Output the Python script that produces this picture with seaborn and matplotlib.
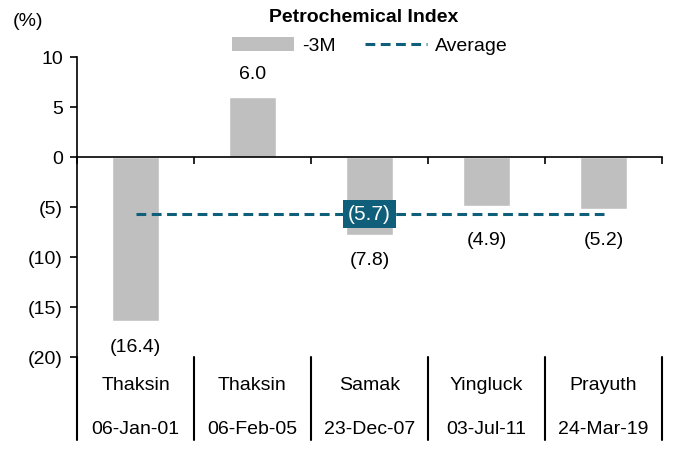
import numpy as np
import pandas as pd
import seaborn as sns
import matplotlib.pyplot as plt
from matplotlib.patches import Patch
from matplotlib.lines import Line2D
from matplotlib.ticker import FuncFormatter
import matplotlib.transforms as mtrans

# data
leaders = ["Thaksin", "Thaksin", "Samak", "Yingluck", "Prayuth"]
dates = ["06-Jan-01", "06-Feb-05", "23-Dec-07", "03-Jul-11", "24-Mar-19"]
change_3m = [-16.4, 6.0, -7.8, -4.9, -5.2]
average = -5.7

bar_color = "#BFBFBF"
avg_color = "#0F5F7A"
fs = 14

sns.set_style("white")
plt.rcParams["font.family"] = ["Liberation Sans", "DejaVu Sans"]
plt.rcParams["text.color"] = "black"
plt.rcParams["ytick.color"] = "black"
plt.rcParams["xtick.color"] = "black"

df = pd.DataFrame({"date": dates, "leader": leaders, "chg": change_3m})

fig = plt.figure(figsize=(6.77, 4.51), dpi=100)
ax = fig.add_axes([77 / 677, 94 / 451, 585 / 677, 300 / 451])

sns.barplot(data=df, x="date", y="chg", color=bar_color, saturation=1,
            width=0.4, ax=ax)
sns.lineplot(x=list(range(len(dates))), y=[average] * len(dates), color=avg_color,
             linewidth=2.2, linestyle=(0, (3.2, 1.8)), ax=ax)

ax.set_xlim(-0.5, len(dates) - 0.5)
ax.set_ylim(-20, 10)
ax.set_yticks([10, 5, 0, -5, -10, -15, -20])
ax.yaxis.set_major_formatter(FuncFormatter(
    lambda v, p: f"({abs(v):.0f})" if v < 0 else f"{v:.0f}"))
ax.tick_params(axis="y", direction="out", length=5, width=1.2, labelsize=fs,
               left=True, pad=5)

# x-axis sits on zero, ticks at category boundaries
ax.spines["bottom"].set_position(("data", 0))
ax.set_xticks(np.arange(-0.5, len(dates), 1.0))
ax.set_xticklabels([])
ax.tick_params(axis="x", direction="out", length=5, width=1.2, bottom=True)
for s in ["top", "right"]:
    ax.spines[s].set_visible(False)
for s in ["left", "bottom"]:
    ax.spines[s].set_linewidth(1.2)
    ax.spines[s].set_color("black")
ax.set_xlabel("")
ax.set_ylabel("")

# value labels
for i, v in enumerate(change_3m):
    if v >= 0:
        ax.annotate(f"{v:.1f}", (i, v), xytext=(0, 16), textcoords="offset points",
                    ha="center", va="center", fontsize=fs)
    elif i == 2:
        ax.annotate(f"({abs(v):.1f})", (i, v), xytext=(0, -18), textcoords="offset points",
                    ha="center", va="center", fontsize=fs)
    else:
        ax.annotate(f"({abs(v):.1f})", (i, min(v, average)), xytext=(0, -19),
                    textcoords="offset points", ha="center", va="center", fontsize=fs)

# average label box
ax.text(2, average, f"({abs(average):.1f})", ha="center", va="center",
        fontsize=fs + 1, color="white",
        bbox=dict(boxstyle="square,pad=0.22", fc=avg_color, ec="none"))

# category table under the axis
trans = mtrans.blended_transform_factory(ax.transData, ax.transAxes)
for b in np.arange(-0.5, len(dates), 1.0):
    ax.plot([b, b], [0, -83 / 300], transform=trans, color="black",
            linewidth=1.5, clip_on=False)
for i, (name, d) in enumerate(zip(leaders, dates)):
    ax.text(i, -28 / 300, name, transform=trans, ha="center", va="center", fontsize=fs)
    ax.text(i, -73 / 300, d, transform=trans, ha="center", va="center", fontsize=fs)

fig.text(28 / 677, 1 - 22 / 451, "(%)", ha="center", va="center", fontsize=fs)
fig.text(364 / 677, 1 - 18 / 451, "Petrochemical Index", ha="center", va="center",
         fontsize=fs, fontweight="bold")

handles = [Patch(facecolor=bar_color, edgecolor="none"),
           Line2D([0], [0], color=avg_color, linewidth=2.2, linestyle=(0, (3.2, 1.8)))]
fig.legend(handles, ["-3M", "Average"], loc="center", bbox_to_anchor=(370 / 677, 1 - 46 / 451),
           ncol=2, frameon=False, fontsize=fs, handlelength=3.2, handleheight=0.7,
           columnspacing=1.5, handletextpad=0.4, borderpad=0)

fig.savefig("out.png", dpi=100)
